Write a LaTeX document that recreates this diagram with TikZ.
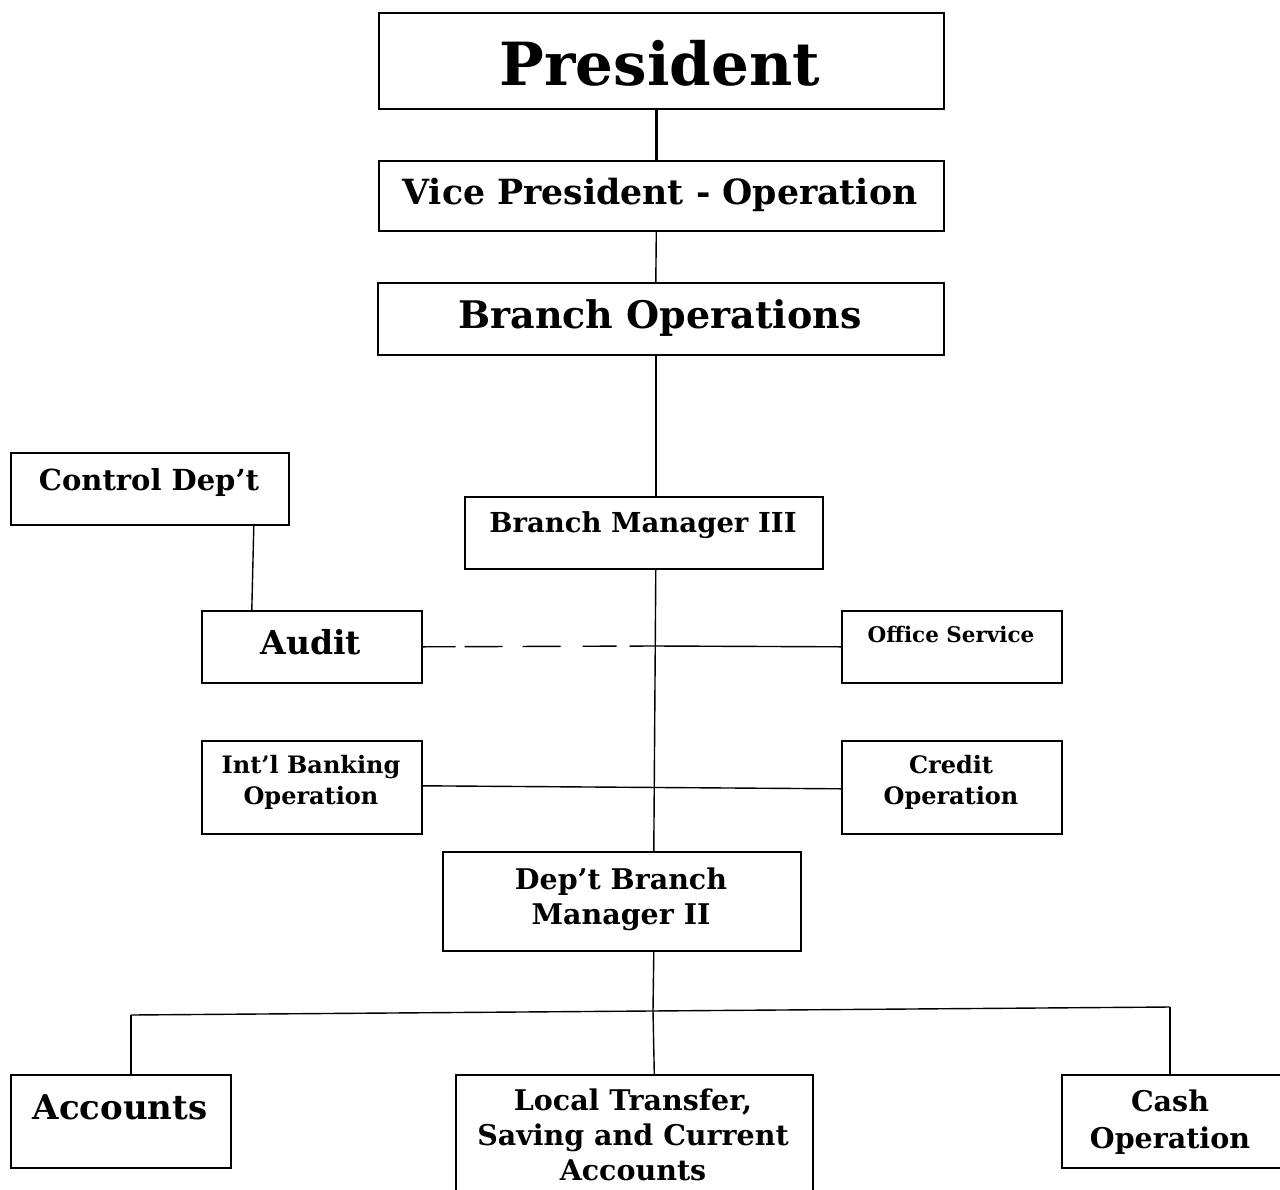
\documentclass[tikz,border=0pt]{standalone}
\usepackage{fontspec}
\setmainfont{DejaVu Serif}
\begin{document}
\begin{tikzpicture}[x=1pt,y=-1pt,
  box/.style={draw, line width=1.6pt, inner sep=0pt, anchor=north west},
  lbl/.style={font=\bfseries, align=center, inner sep=0pt, anchor=center},
  conn/.style={line width=1.4pt}]
\useasboundingbox (0,0) rectangle (1280,1189);
% boxes
\node[box, minimum width=565, minimum height=96] (pres) at (378,12) {};
\node[box, minimum width=565, minimum height=70] (vp) at (378,160) {};
\node[box, minimum width=566, minimum height=72] (bo) at (377,282) {};
\node[box, minimum width=278, minimum height=72] (ctl) at (10,452) {};
\node[box, minimum width=358, minimum height=72] (bm3) at (464,496) {};
\node[box, minimum width=220, minimum height=72] (aud) at (201,610) {};
\node[box, minimum width=220, minimum height=72] (ofs) at (841,610) {};
\node[box, minimum width=220, minimum height=93] (intl) at (201,740) {};
\node[box, minimum width=220, minimum height=93] (cred) at (841,740) {};
\node[box, minimum width=358, minimum height=99] (dbm) at (442,851) {};
\node[box, minimum width=220, minimum height=93] (acc) at (10,1074) {};
\node[box, minimum width=357, minimum height=130] (loc) at (455,1074) {};
\node[box, minimum width=230, minimum height=93] (cash) at (1061,1074) {};
% labels
\node[lbl, font=\bfseries\fontsize{59.5}{60}\selectfont] (presT) at (660,63) {President};
\node[lbl, font=\bfseries\fontsize{34.7}{36}\selectfont] (vpT) at (660,195) {Vice President - Operation};
\node[lbl, font=\bfseries\fontsize{38}{40}\selectfont] (boT) at (660,318) {Branch Operations};
\node[lbl, font=\bfseries\fontsize{29}{30}\selectfont] (ctlT) at (149,482) {Control Dep’t};
\node[lbl, font=\bfseries\fontsize{27.5}{30}\selectfont] (bm3T) at (643,525) {Branch Manager III};
\node[lbl, font=\bfseries\fontsize{33}{35}\selectfont] (audT) at (311,642) {Audit};
\node[lbl, font=\bfseries\fontsize{21.5}{24}\selectfont] (ofsT) at (951,634) {Office Service};
\node[lbl, font=\bfseries\fontsize{24}{31}\selectfont] (intlT) at (311,782) {Int’l Banking\\Operation};
\node[lbl, font=\bfseries\fontsize{24}{31}\selectfont] (credT) at (951,782) {Credit\\Operation};
\node[lbl, font=\bfseries\fontsize{28.5}{35}\selectfont] (dbmT) at (621,899) {Dep’t Branch\\Manager II};
\node[lbl, font=\bfseries\fontsize{34}{36}\selectfont] (accT) at (120,1107) {Accounts};
\node[lbl, font=\bfseries\fontsize{28.5}{35}\selectfont] (locT) at (633,1135) {Local Transfer,\\Saving and Current\\Accounts};
\node[lbl, font=\bfseries\fontsize{28.5}{37}\selectfont] (cashT) at (1170,1122) {Cash\\Operation};
% connectors
\draw[line width=3pt] ([xshift=-5]pres.south) -- ([xshift=-5]vp.north);
\draw[conn] ([xshift=-5]vp.south) -- ([xshift=-5]bo.north);
\draw[conn] ([xshift=-5]bo.south) -- ([xshift=12]bm3.north);
\draw[conn] ([xshift=104]ctl.south) -- ([xshift=-60]aud.north);
\draw[conn] ([xshift=12]bm3.south) -- ([xshift=32]dbm.north);
\coordinate (mid) at (655,646);
\draw[conn, dash pattern=on 33pt off 9pt on 38pt off 20pt on 38pt off 22pt on 34pt off 13pt on 400pt] (aud.east) -- (mid);
\draw[conn] (mid) -- (ofs.west);
\draw[conn] ([yshift=1.5]intl.east) -- ([yshift=-1.5]cred.west);
\coordinate (jl) at (131,1015);
\coordinate (jm) at (653,1011);
\coordinate (jr) at (1170,1007);
\draw[conn] ([xshift=32]dbm.south) -- (jm);
\draw[conn] (jl) -- (jr);
\draw[conn] (jl) -- (jl |- acc.north);
\draw[conn] (jm) -- ([xshift=20]loc.north);
\draw[conn] (jr) -- (jr |- cash.north);
\end{tikzpicture}
\end{document}
